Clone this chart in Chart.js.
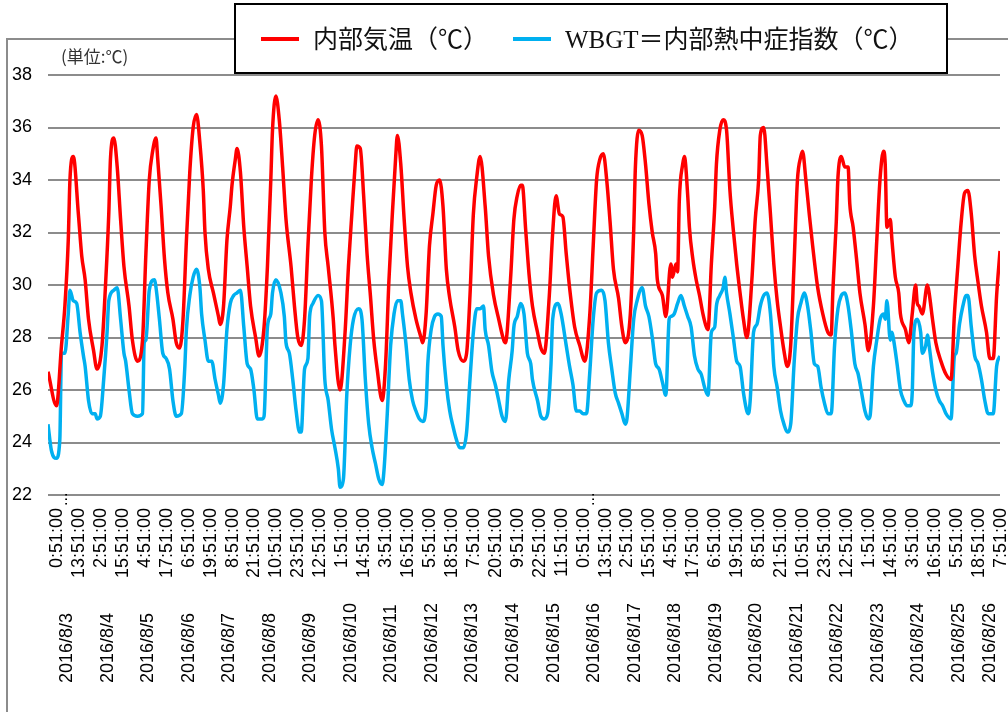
<!DOCTYPE html>
<html>
<head>
<meta charset="utf-8">
<script src="https://cdn.jsdelivr.net/npm/chart.js@4"></script>
<style>
  html, body { margin: 0; padding: 0; background: #fff; }
  #wrap { width: 1008px; height: 712px; position: relative; }
</style>
</head>
<body>
<div id="wrap"><canvas id="myChart"></canvas></div>
<script>
// series names
const seriesNames = ["内部気温（℃）", "WBGT＝内部熱中症指数（℃）"];

// hours counted from 2016/8/3 0:51 (hourly readings)
const tempHours = [
  0, 5, 8, 10, 12, 13, 15, 18, 20, 22, 24, 27, 29,
  32, 34, 36, 37, 39, 41, 43, 45, 48, 50, 53,
  56, 58, 60, 62, 64, 65, 67, 69, 71, 74, 76, 78,
  80, 82, 84, 86, 88, 90, 92, 93, 95, 98, 101, 102,
  104, 106, 108, 109, 111, 112, 114, 116, 118, 120, 123, 125,
  128, 130, 132, 133, 135, 137, 139, 141, 144, 146, 148, 150,
  152, 154, 156, 158, 160, 162, 164, 166, 169, 170, 173,
  176, 178, 180, 182, 183, 185, 187, 189, 191, 193, 195, 198,
  200, 202, 204, 206, 207, 209, 211, 213, 215, 218, 221, 222,
  224, 226, 228, 230, 232, 234, 236, 238, 241, 243, 246, 248,
  250, 252, 254, 256, 259, 261, 264, 267, 270, 271,
  274, 276, 278, 280, 281, 283, 285, 287, 290, 292, 294,
  297, 299, 301, 303, 305, 307, 309, 312, 315, 318,
  321, 323, 325, 327, 329, 331, 333, 335, 338, 340, 342,
  345, 347, 348, 350, 352, 354, 356, 358, 360, 361, 364, 366,
  369, 370, 372, 373, 374, 376, 377, 379, 380, 382, 384, 386, 388, 390, 391,
  393, 395, 396, 398, 400, 402, 404, 406, 408, 410, 412, 414,
  417, 419, 421, 422, 424, 426, 428, 430, 432, 434, 436, 438,
  440, 442, 444, 446, 447, 449, 451, 453, 456, 459, 462, 464,
  465, 467, 468, 470, 472, 474, 475, 477, 479, 481, 484, 486,
  489, 491, 493, 495, 496, 497, 499, 500, 502, 504, 505, 508, 510,
  512, 514, 515, 516, 518, 521, 522, 524, 526, 529, 532, 535,
  537, 539, 541, 543, 545, 547, 549, 551, 553, 556, 558, 560, 562, 564
];
const tempValues = [
  26.7, 25.4, 27.7, 29.2, 31.7, 34.0, 34.9, 32.7, 31.1, 30.2, 28.7, 27.5, 26.8,
  27.7, 29.9, 32.7, 34.8, 35.6, 34.5, 32.5, 30.7, 29.2, 27.9, 27.1,
  27.9, 31.2, 34.0, 35.1, 35.6, 34.8, 33.0, 31.0, 29.7, 28.7, 27.8, 27.6,
  28.7, 31.7, 34.3, 36.0, 36.5, 35.4, 33.6, 32.0, 30.6, 29.7, 28.8, 28.5,
  29.2, 31.7, 33.0, 33.8, 34.8, 35.2, 34.3, 32.2, 30.7, 29.2, 28.0, 27.3,
  28.4, 30.7, 34.0, 35.9, 37.2, 36.3, 34.5, 32.5, 30.7, 29.2, 28.0, 27.7,
  28.7, 31.5, 34.0, 35.7, 36.3, 35.3, 32.0, 30.7, 28.7, 27.7, 26.0,
  28.2, 30.7, 32.7, 34.6, 35.3, 35.2, 33.4, 31.2, 29.6, 27.9, 26.8, 25.6,
  27.0, 30.2, 32.7, 34.9, 35.7, 34.6, 32.5, 30.7, 29.7, 28.7, 28.0, 27.8,
  28.9, 31.5, 32.7, 33.8, 34.0, 33.0, 30.6, 29.5, 28.4, 27.5, 27.1, 27.4,
  29.6, 32.7, 34.1, 34.9, 33.0, 31.1, 29.6, 28.7, 27.9, 27.8,
  30.2, 32.5, 33.4, 33.8, 33.8, 32.1, 30.4, 29.2, 28.2, 27.6, 27.4,
  29.6, 32.0, 33.4, 32.7, 32.6, 31.2, 29.9, 28.4, 27.7, 27.1,
  28.9, 31.5, 34.0, 34.8, 35.0, 34.0, 32.4, 30.6, 29.5, 28.4, 27.8,
  28.9, 32.1, 34.5, 35.9, 35.7, 34.6, 33.1, 32.0, 31.2, 30.2, 29.6, 28.8,
  30.8, 30.3, 30.8, 30.5, 33.2, 34.6, 34.9, 33.4, 32.2, 31.0, 30.2, 29.6, 28.9, 28.4, 28.3,
  30.8, 33.0, 34.6, 35.9, 36.3, 35.9, 33.6, 32.1, 30.8, 29.7, 28.7, 28.0,
  30.2, 32.5, 34.0, 35.7, 36.0, 34.5, 32.7, 30.8, 29.4, 28.4, 27.5, 26.9,
  27.7, 30.8, 34.0, 34.9, 35.1, 34.0, 32.7, 31.5, 29.9, 28.9, 28.2, 28.1,
  29.8, 32.4, 34.1, 34.9, 34.5, 34.5, 33.1, 32.2, 31.0, 29.7, 28.5, 27.5,
  29.2, 31.7, 34.1, 35.1, 34.6, 32.2, 32.5, 31.7, 30.3, 29.7, 28.9, 28.3, 27.8,
  28.9, 30.0, 29.3, 29.2, 28.9, 30.0, 29.7, 28.7, 27.8, 27.1, 26.6, 26.4,
  28.9, 30.7, 32.4, 33.5, 33.6, 32.7, 31.1, 30.1, 29.2, 28.2, 27.2, 27.2, 29.6, 31.3
];

const wbgtHours = [
  0, 2, 5, 7, 8, 10, 12, 13, 15, 17, 19, 21, 22, 24, 26, 28, 29, 31,
  33, 35, 36, 39, 41, 43, 45, 46, 48, 50, 53, 56,
  57, 58, 60, 63, 64, 66, 68, 70, 72, 74, 76, 79,
  81, 82, 84, 86, 88, 90, 91, 93, 95, 97, 99, 101, 102,
  104, 106, 108, 110, 112, 114, 116, 118, 120, 122, 124, 127, 128,
  130, 132, 133, 135, 138, 140, 141, 143, 145, 147, 149, 150,
  152, 154, 155, 157, 160, 162, 164, 166, 168, 170, 172, 173, 175,
  177, 179, 181, 184, 186, 188, 190, 192, 194, 196, 198, 199,
  201, 203, 205, 207, 209, 210, 212, 214, 216, 218, 220, 222, 224,
  225, 227, 229, 231, 233, 234, 236, 238, 240, 242, 244, 246, 248,
  250, 252, 254, 256, 258, 259, 261, 263, 265, 267, 269, 271,
  273, 275, 276, 278, 280, 282, 284, 286, 287, 290, 292, 294, 296,
  298, 299, 302, 304, 307, 309, 311, 313, 315, 317, 319,
  321, 323, 325, 328, 330, 332, 334, 336, 338, 340, 342, 343,
  345, 347, 349, 352, 354, 356, 358, 360, 362, 364, 366,
  368, 369, 371, 373, 375, 377, 379, 381, 383, 385, 387, 389, 391,
  393, 395, 396, 398, 400, 401, 402, 404, 406, 408, 410, 412, 414, 415,
  416, 418, 420, 422, 424, 426, 428, 429, 430, 432, 434, 436, 438, 440,
  442, 444, 446, 448, 450, 452, 454, 456, 458, 460, 462, 464,
  466, 468, 470, 472, 474, 476, 478, 480, 482, 484, 486, 487,
  489, 491, 493, 495, 496, 497, 499, 500, 501, 503, 505, 507, 509, 511, 512,
  513, 515, 517, 518, 520, 521, 522, 524, 526, 528, 530, 532, 535,
  537, 538, 540, 542, 544, 545, 547, 549, 551, 553, 555, 557, 560, 562, 564
];
const wbgtValues = [
  24.7, 23.7, 23.4, 24.1, 27.4, 27.4, 28.9, 29.8, 29.4, 29.3, 28.2, 27.3, 26.9, 25.6, 25.1, 25.1, 24.9, 25.0,
  26.4, 28.2, 29.4, 29.8, 29.9, 28.7, 27.4, 27.1, 26.0, 25.1, 25.0, 25.1,
  27.8, 27.9, 29.8, 30.2, 29.9, 28.7, 27.4, 27.2, 26.8, 25.6, 25.0, 25.1,
  26.8, 28.3, 29.6, 30.3, 30.6, 29.9, 28.9, 27.9, 27.1, 27.1, 26.4, 25.8, 25.5,
  26.2, 28.3, 29.3, 29.6, 29.7, 29.8, 28.4, 27.0, 26.8, 26.0, 24.9, 24.9, 25.0,
  28.4, 28.9, 29.7, 30.2, 29.7, 28.8, 27.8, 27.4, 26.4, 25.2, 24.4, 24.4,
  26.8, 27.2, 28.8, 29.3, 29.6, 29.4, 26.4, 25.6, 24.5, 23.8, 23.0, 22.3, 22.6,
  25.8, 27.7, 28.7, 29.1, 28.7, 26.4, 24.7, 23.8, 23.2, 22.6, 22.4, 22.9,
  25.1, 27.7, 28.9, 29.4, 29.4, 28.9, 27.8, 26.4, 25.6, 25.2, 24.9, 24.8, 25.4,
  27.0, 28.3, 28.8, 28.9, 28.8, 27.7, 26.2, 25.2, 24.6, 24.1, 23.8, 23.8, 24.4,
  26.4, 28.2, 29.1, 29.1, 29.2, 28.3, 27.7, 26.7, 26.2, 25.6, 25.0, 24.8,
  26.4, 27.5, 28.4, 28.8, 29.3, 28.9, 27.4, 27.0, 26.4, 25.6, 25.0, 24.9, 25.1,
  27.0, 28.7, 29.3, 28.9, 27.7, 26.9, 26.2, 25.2, 25.2, 25.1, 25.1,
  26.7, 28.7, 29.7, 29.8, 29.4, 27.8, 26.8, 25.9, 25.5, 25.1, 24.7, 24.9,
  26.8, 28.7, 29.4, 29.9, 29.2, 28.8, 28.0, 27.0, 26.8, 26.3, 25.8,
  28.7, 28.8, 28.9, 29.3, 29.6, 29.2, 28.8, 28.4, 27.3, 26.8, 26.6, 26.1, 25.8,
  28.2, 28.4, 29.2, 29.6, 29.9, 30.3, 29.7, 28.9, 28.0, 27.1, 26.9, 25.9, 25.2, 25.1,
  25.6, 28.2, 28.5, 29.2, 29.6, 29.7, 28.9, 28.0, 26.9, 26.1, 25.2, 24.7, 24.4, 24.7,
  27.0, 28.7, 29.3, 29.7, 29.2, 28.2, 27.0, 26.9, 26.1, 25.5, 25.1, 25.1,
  27.7, 29.1, 29.6, 29.7, 29.2, 28.2, 27.0, 26.6, 25.9, 25.2, 24.9, 25.0,
  26.9, 27.9, 28.7, 28.9, 28.7, 29.4, 27.9, 28.2, 27.9, 27.0, 26.0, 25.6, 25.4, 25.4, 25.9,
  28.2, 28.7, 28.2, 27.4, 27.7, 28.1, 27.7, 26.7, 26.0, 25.6, 25.4, 25.1, 24.9,
  27.3, 27.4, 28.5, 29.2, 29.6, 29.6, 28.4, 27.3, 27.0, 26.4, 25.6, 25.1, 25.1, 26.9, 27.3
];

// axis labels
const lastHour = 564;
const timeStep = 13;
const timeLabels = [
  "0:51:00", "13:51:00", "2:51:00", "15:51:00", "4:51:00", "17:51:00", "6:51:00", "19:51:00",
  "8:51:00", "21:51:00", "10:51:00", "23:51:00", "12:51:00", "1:51:00", "14:51:00", "3:51:00",
  "16:51:00", "5:51:00", "18:51:00", "7:51:00", "20:51:00", "9:51:00", "22:51:00", "11:51:00",
  "0:51:00", "13:51:00", "2:51:00", "15:51:00", "4:51:00", "17:51:00", "6:51:00", "19:51:00",
  "8:51:00", "21:51:00", "10:51:00", "23:51:00", "12:51:00", "1:51:00", "14:51:00", "3:51:00",
  "16:51:00", "5:51:00", "18:51:00", "7:51:00"
];
const dateLabels = [
  "2016/8/3", "2016/8/4", "2016/8/5", "2016/8/6", "2016/8/7", "2016/8/8", "2016/8/9", "2016/8/10",
  "2016/8/11", "2016/8/12", "2016/8/13", "2016/8/14", "2016/8/15", "2016/8/16", "2016/8/17", "2016/8/18",
  "2016/8/19", "2016/8/20", "2016/8/21", "2016/8/22", "2016/8/23", "2016/8/24", "2016/8/25", "2016/8/26"
];
const yTicks = [22, 24, 26, 28, 30, 32, 34, 36, 38];
const unitText = "(単位:℃)";

const colors = ["#ff0000", "#00b0f0"];
const numFont = '"Liberation Sans", Arial, sans-serif';
const legendFont = '"Liberation Serif", "Noto Sans CJK JP", serif';

function toPoints(xs, ys) {
  return xs.map((h, i) => ({ x: h, y: ys[i] }));
}

// frame, unit text, date row (bottom aligned), boxed legend
const decoPlugin = {
  id: "deco",
  beforeDraw(chart) {
    const ctx = chart.ctx;
    ctx.save();
    ctx.fillStyle = "#fff";
    ctx.fillRect(0, 0, chart.width, chart.height);
    ctx.strokeStyle = "#8c8c8c";
    ctx.lineWidth = 2;
    ctx.beginPath();
    ctx.moveTo(7, chart.height);
    ctx.lineTo(7, 39);
    ctx.lineTo(chart.width, 39);
    ctx.stroke();
    ctx.restore();
  },
  afterDraw(chart) {
    const ctx = chart.ctx;
    ctx.save();
    // unit
    ctx.fillStyle = "#333";
    ctx.font = '17px "Noto Sans CJK JP", sans-serif';
    ctx.textBaseline = "middle";
    ctx.fillText(unitText, 61, 57);

    // the little "..." after the 0:51 labels
    const xs = chart.scales.x;
    ctx.font = "16px " + numFont;
    ctx.fillStyle = "#000";
    xs.ticks.forEach((t, i) => {
      if (timeLabels[i] === "0:51:00") {
        const px = xs.getPixelForValue(t.value) + 15;
        ctx.save();
        ctx.translate(px, 506);
        ctx.rotate(-Math.PI / 2);
        ctx.textBaseline = "middle";
        ctx.fillText("...", 0, 0);
        ctx.restore();
      }
    });

    // date row: text ends line up at the bottom
    const ds = chart.scales.xDate;
    ctx.font = "18px " + numFont;
    ctx.fillStyle = "#000";
    ds.ticks.forEach((t, i) => {
      const px = ds.getPixelForValue(t.value);
      ctx.save();
      ctx.translate(px, 683);
      ctx.rotate(-Math.PI / 2);
      ctx.textAlign = "left";
      ctx.textBaseline = "middle";
      ctx.fillText(dateLabels[i], 0, 0);
      ctx.restore();
    });

    // legend box
    ctx.fillStyle = "#fff";
    ctx.fillRect(235, 4, 712, 69);
    ctx.strokeStyle = "#000";
    ctx.lineWidth = 2;
    ctx.strokeRect(235, 4, 712, 69);
    const items = [
      { x1: 261, x2: 299, tx: 313 },
      { x1: 513, x2: 551, tx: 565 }
    ];
    ctx.font = "25px " + legendFont;
    ctx.textBaseline = "middle";
    chart.data.datasets.forEach((d, i) => {
      const it = items[i];
      ctx.strokeStyle = d.borderColor;
      ctx.lineWidth = 4;
      ctx.beginPath();
      ctx.moveTo(it.x1, 39);
      ctx.lineTo(it.x2, 39);
      ctx.stroke();
      ctx.fillStyle = "#111";
      ctx.fillText(d.label, it.tx, 41);
    });
    ctx.restore();
  }
};

const myChart = new Chart("myChart", {
  type: "line",
  data: {
    datasets: [
      {
        label: seriesNames[0],
        data: toPoints(tempHours, tempValues),
        borderColor: colors[0],
        borderWidth: 3.5,
        pointRadius: 0,
        fill: false,
        cubicInterpolationMode: "monotone",
        xAxisID: "x",
        yAxisID: "y"
      },
      {
        label: seriesNames[1],
        data: toPoints(wbgtHours, wbgtValues),
        borderColor: colors[1],
        borderWidth: 3.5,
        pointRadius: 0,
        fill: false,
        cubicInterpolationMode: "monotone",
        xAxisID: "x",
        yAxisID: "y"
      }
    ]
  },
  options: {
    responsive: true,
    maintainAspectRatio: false,
    animation: false,
    devicePixelRatio: 1,
    layout: { padding: { top: 75, right: 8, left: 0, bottom: 0 } },
    plugins: {
      legend: { display: false },
      tooltip: { enabled: false }
    },
    scales: {
      x: {
        type: "linear",
        position: "bottom",
        weight: 0,
        min: 0,
        max: lastHour,
        grid: { display: false, drawTicks: false },
        border: { display: false },
        afterBuildTicks: (s) => { s.ticks = timeLabels.map((_, i) => ({ value: i * timeStep })); },
        afterFit: (s) => { s.height = 108; s.paddingLeft = 0; s.paddingRight = 0; },
        ticks: {
          autoSkip: false,
          minRotation: 90,
          maxRotation: 90,
          padding: 13,
          labelOffset: 9,
          color: "#000",
          font: { family: numFont, size: 18 },
          callback: (v, i) => timeLabels[i]
        }
      },
      xDate: {
        type: "linear",
        position: "bottom",
        weight: 1,
        min: 0,
        max: lastHour,
        grid: { display: false, drawTicks: false },
        border: { display: false },
        afterBuildTicks: (s) => {
          s.ticks = dateLabels.map((_, i) => {
            const start = i * 24;
            const end = Math.min(start + 23, lastHour);
            return { value: (start + end) / 2 };
          });
        },
        afterFit: (s) => { s.height = 109; s.paddingLeft = 0; s.paddingRight = 0; },
        ticks: { display: false, autoSkip: false }
      },
      y: {
        min: 22,
        max: 38,
        afterBuildTicks: (s) => { s.ticks = yTicks.map(v => ({ value: v })); },
        afterFit: (s) => { s.width = 48; },
        grid: { color: "#8c8c8c", lineWidth: 2, drawTicks: false },
        border: { display: false },
        ticks: {
          padding: 16,
          color: "#000",
          font: { family: numFont, size: 18 }
        }
      }
    }
  },
  plugins: [decoPlugin]
});
</script>
</body>
</html>
